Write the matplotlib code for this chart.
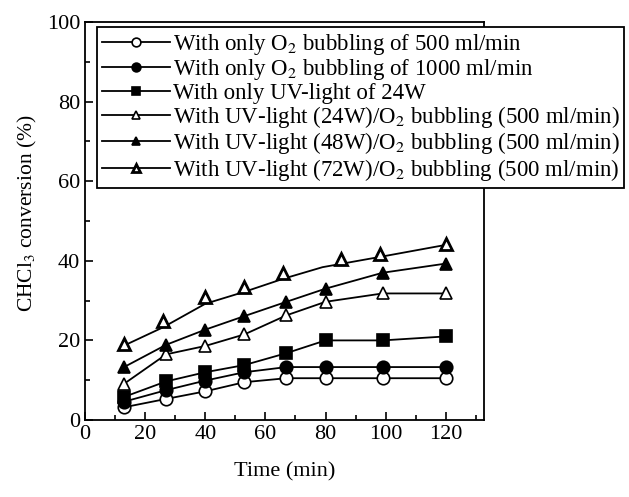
"""CHCl3 conversion vs time for O2 bubbling / UV-light combinations."""
import matplotlib

matplotlib.use("Agg")
import matplotlib.pyplot as plt  # noqa: E402
from matplotlib.ticker import MultipleLocator  # noqa: E402

plt.rcParams["font.family"] = "serif"
plt.rcParams["font.serif"] = ["Liberation Serif", "DejaVu Serif"]
plt.rcParams["mathtext.fontset"] = "stix"

# time points (min)
t_base = [13, 27, 40, 53, 67, 80, 99, 120]
t_72w = [13, 26, 40, 53, 66, 85, 98, 120]

o2_500 = [3.2, 5.3, 7.2, 9.5, 10.5, 10.5, 10.5, 10.5]
o2_1000 = [4.6, 7.5, 9.9, 12.0, 13.3, 13.3, 13.3, 13.3]
uv_24 = [5.8, 9.7, 12.0, 13.8, 16.8, 20.0, 20.0, 21.0]
uv24_o2 = [9.1, 16.5, 18.6, 21.5, 26.3, 29.7, 31.8, 31.8]
uv48_o2 = [13.3, 18.9, 22.7, 26.1, 29.7, 33.0, 37.0, 39.3]
uv72_o2 = [19.2, 25.0, 30.9, 33.4, 36.9, 40.5, 41.8, 44.2]
t_72w_curve = [13, 26, 40, 53, 66, 79, 99, 120]
uv72_curve = [18.7, 23.3, 29.2, 32.2, 35.5, 38.4, 41.1, 44.0]

labels = [
    r"With only O$_2$ bubbling of 500 ml/min",
    r"With only O$_2$ bubbling of 1000 ml/min",
    "With only UV-light of 24W",
    r"With UV-light (24W)/O$_2$ bubbling (500 ml/min)",
    r"With UV-light (48W)/O$_2$ bubbling (500 ml/min)",
    r"With UV-light (72W)/O$_2$ bubbling (500 ml/min)",
]

fig = plt.figure(figsize=(6.29, 4.97), dpi=100)
ax = fig.add_axes([85 / 629, 1 - 420 / 497, 399 / 629, 398 / 497])

kw = dict(color="black", lw=1.3, ms=9, mec="black", mew=1.2)
ax.plot(t_base, o2_500, "-o", mfc="white", label=labels[0], **kw)
ax.plot(t_base, o2_1000, "-o", mfc="black", label=labels[1], **kw)
ax.plot(t_base, uv_24, "-s", mfc="black", label=labels[2], **kw)
ax.plot(t_base, uv24_o2, "-^", mfc="white", label=labels[3], **kw)
ax.plot(t_base, uv48_o2, "-^", mfc="black", label=labels[4], **kw)
ax.plot(t_72w_curve, uv72_curve, "-", color="black", lw=1.3)
ax.plot(t_72w, uv72_o2, "^", color="black", ms=9, mfc="white", mec="black",
        mew=2.0)
# proxy handle for the legend entry of the 72W series
ax.plot([], [], "-^", color="black", lw=1.3, ms=9, mfc="white", mec="black",
        mew=2.0, label=labels[5])

ax.set_xlim(0, 132.7)
ax.set_ylim(0, 100)
ax.xaxis.set_major_locator(MultipleLocator(20))
ax.xaxis.set_minor_locator(MultipleLocator(10))
ax.yaxis.set_major_locator(MultipleLocator(20))
ax.yaxis.set_minor_locator(MultipleLocator(10))
ax.tick_params(which="both", direction="in", top=False, right=False,
               labelsize=16, width=1.2)
ax.tick_params(which="major", length=6)
ax.tick_params(which="minor", length=3.5)
for s in ax.spines.values():
    s.set_linewidth(1.3)

ax.set_xlabel("Time (min)", fontsize=16, labelpad=13)
ax.set_ylabel(r"CHCl$_3$ conversion (%)", fontsize=15.5)
ax.yaxis.set_label_coords(-0.115, 0.52)

leg = ax.legend(loc="upper left", bbox_to_anchor=(97 / 629, 1 - 27 / 497),
                bbox_transform=fig.transFigure, borderaxespad=0,
                fontsize=16.5, handlelength=3.0, handletextpad=0.1,
                labelspacing=0.02, borderpad=0.2, markerscale=0.7,
                frameon=True, fancybox=False)
leg.get_frame().set_edgecolor("black")
leg.get_frame().set_linewidth(1.3)
leg.get_frame().set_alpha(1)

fig.savefig("out.png", dpi=100)
